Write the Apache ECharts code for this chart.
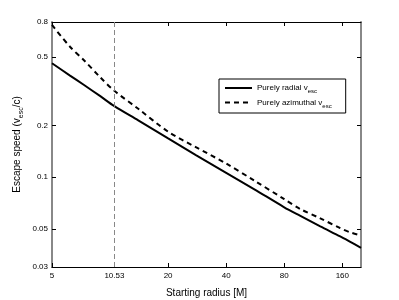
<!DOCTYPE html>
<html>
<head>
<meta charset="utf-8">
<script src="https://cdn.jsdelivr.net/npm/echarts@6/dist/echarts.min.js"></script>
<style>html,body{margin:0;padding:0;background:#fff;}#c{width:399px;height:300px;}</style>
</head>
<body>
<div id="c"></div>
<script>
var radius = [5, 6.2, 7.3, 8.9, 10.53, 14, 20, 28, 40, 56, 80, 97, 123, 156, 176, 200];
var radialEsc = [0.46, 0.39, 0.345, 0.296, 0.259, 0.214, 0.168, 0.134, 0.106, 0.085, 0.0668, 0.0595, 0.0517, 0.0452, 0.0420, 0.0388];
var azimuthalEsc = [0.769, 0.574, 0.481, 0.381, 0.318, 0.25, 0.184, 0.149, 0.120, 0.0955, 0.0745, 0.0652, 0.0576, 0.0505, 0.0477, 0.0458];
var xTicks = [5, 10.53, 20, 40, 80, 160];
var yTicks = [0.03, 0.05, 0.1, 0.2, 0.5, 0.8];
var markerRadius = [10.53];
var seriesNames = ['Purely radial v{sub|esc}', 'Purely azimuthal v{sub|esc}'];

var font = 'Liberation Sans, Arial, Helvetica, sans-serif';
function pairs(xs, ys) { return xs.map(function (x, i) { return [x, ys[i]]; }); }

function xAxisCfg(pos, showLabel) {
  return {
    type: 'log', position: pos, min: 5, max: 200,
    splitLine: { show: false },
    axisLine: { show: true, lineStyle: { color: '#000', width: 1 } },
    axisTick: { show: true, inside: true, length: 4, lineStyle: { color: '#000' }, customValues: xTicks },
    axisLabel: { show: showLabel, customValues: xTicks, fontSize: 8, color: '#000', fontFamily: font, margin: 5,
      formatter: function (v) { return String(v); } },
    name: showLabel ? 'Starting radius [M]' : '', nameLocation: 'middle', nameGap: 21,
    nameTextStyle: { fontSize: 10, color: '#000', fontFamily: font }
  };
}
function yAxisCfg(pos, showLabel) {
  return {
    type: 'log', position: pos, min: 0.03, max: 0.8,
    splitLine: { show: false },
    axisLine: { show: true, lineStyle: { color: '#888', width: 2 } },
    axisTick: { show: true, inside: true, length: 4, lineStyle: { color: '#000' }, customValues: yTicks },
    axisLabel: { show: showLabel, customValues: yTicks, fontSize: 8, color: '#000', fontFamily: font, margin: 4,
      formatter: function (v) { return String(v); } },
    name: showLabel ? 'Escape speed (v{sub|esc}/c)' : '', nameLocation: 'middle', nameGap: 27,
    nameMoveOverlap: false,
    nameTextStyle: { fontSize: 10, color: '#000', fontFamily: font,
      rich: { sub: { fontSize: 7, fontFamily: font, color: '#000', verticalAlign: 'bottom', lineHeight: 16 } } }
  };
}

var chart = echarts.init(document.getElementById('c'), null, { renderer: 'canvas' });
chart.setOption({
  animation: false,
  backgroundColor: '#fff',
  grid: { left: 52, right: 38, top: 22, bottom: 33, containLabel: false, outerBoundsMode: 'none' },
  xAxis: [xAxisCfg('bottom', true), xAxisCfg('top', false)],
  yAxis: [yAxisCfg('left', true), yAxisCfg('right', false)],
  legend: {
    orient: 'vertical', left: 219, top: 79,
    backgroundColor: '#fff', borderColor: '#000', borderWidth: 1,
    padding: [5, 14, 4, 5], itemGap: 4, itemWidth: 27, itemHeight: 8,
    itemStyle: { opacity: 0 },
    textStyle: { fontSize: 8, color: '#000', fontFamily: font,
      rich: { sub: { fontSize: 6, fontFamily: font, color: '#000', verticalAlign: 'bottom', lineHeight: 13 } } },
    data: seriesNames
  },
  series: [
    {
      name: seriesNames[0], type: 'line', xAxisIndex: 0, yAxisIndex: 0,
      data: pairs(radius, radialEsc), symbol: 'none', smooth: 0.3,
      lineStyle: { color: '#000', width: 2, type: 'solid' }, itemStyle: { color: '#000' },
      markLine: {
        silent: true, symbol: 'none', label: { show: false },
        lineStyle: { color: '#888', width: 1, type: [5, 3] },
        data: markerRadius.map(function (r) { return { xAxis: r }; })
      }
    },
    {
      name: seriesNames[1], type: 'line', xAxisIndex: 0, yAxisIndex: 0,
      data: pairs(radius, azimuthalEsc), symbol: 'none', smooth: 0.3,
      lineStyle: { color: '#000', width: 2, type: [5, 4] }, itemStyle: { color: '#000' }
    }
  ]
});
</script>
</body>
</html>
